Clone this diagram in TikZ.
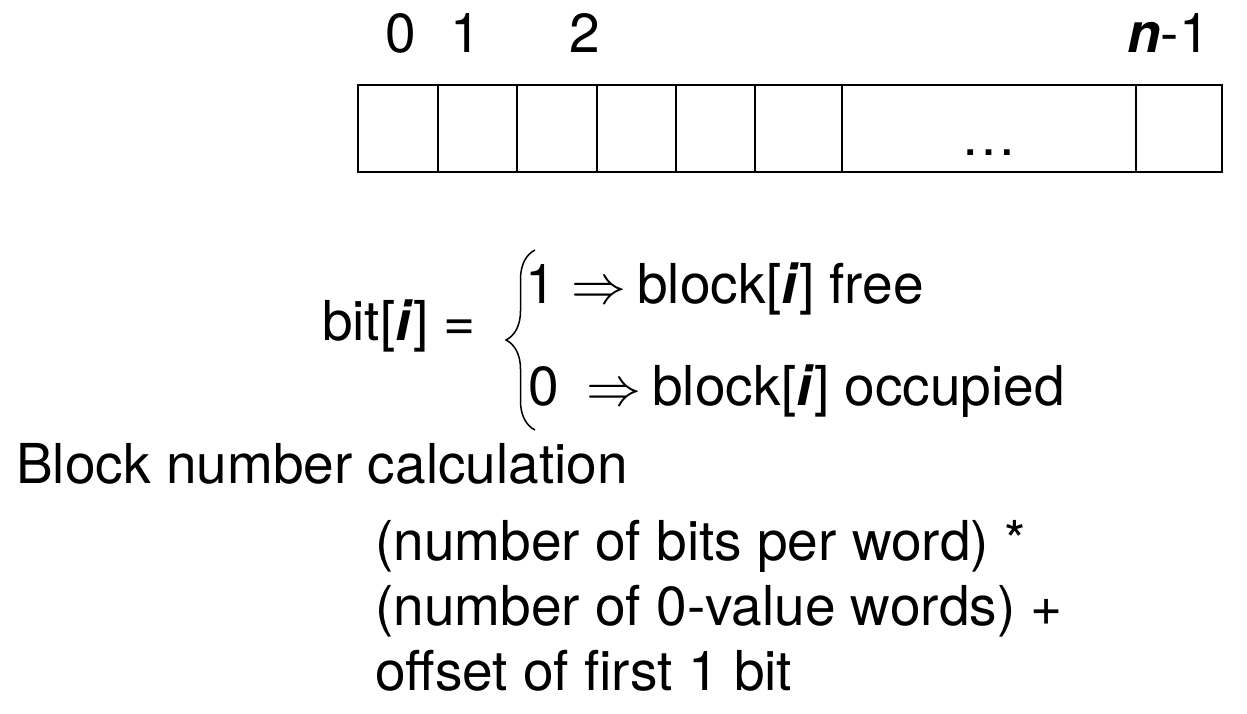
\RequirePackage{fix-cm}
\documentclass[tikz,border=0pt]{standalone}
\usepackage{fontspec}
\setmainfont{TeX Gyre Heros}
\usetikzlibrary{positioning, decorations.pathreplacing}

\begin{document}
\begin{tikzpicture}[
  x=1pt, y=-1pt,
  font=\fontsize{55}{66}\selectfont,
  node distance=0pt,
  cell/.style={draw, line width=2.5pt, minimum height=87pt, inner sep=0pt, outer sep=0pt},
  txt/.style={inner sep=0pt, anchor=base west},
  curly/.style={decorate, decoration={brace, amplitude=29pt}, line width=1.5pt}
]
\useasboundingbox (0,0) rectangle (1247,713);
% bitmap cells
\node[cell, minimum width=80pt, anchor=west] (c0) at (358,128.5) {};
\node[cell, minimum width=79pt, right=of c0] (c1) {};
\node[cell, minimum width=80pt, right=of c1] (c2) {};
\node[cell, minimum width=79pt, right=of c2] (c3) {};
\node[cell, minimum width=79pt, right=of c3] (c4) {};
\node[cell, minimum width=87pt, right=of c4] (c5) {};
\node[cell, minimum width=294pt, right=of c5] (c6) {};
\node[cell, minimum width=86pt, right=of c6] (c7) {};
\node[txt, anchor=base] (dots) at (989,155) {…};
% indices
\node[txt, anchor=base] (i0) at (401,52) {0};
\node[txt, anchor=base] (i1) at (466,52) {1};
\node[txt, anchor=base] (i2) at (585,52) {2};
\node[txt, anchor=base east] (in) at (1210,52) {\textbf{\textit{n}}-1};
% bit definition
\node[txt] (bit) at (322,340) {bit[\textbf{\textit{i}}] =};
\coordinate (btop) at (535,250);
\coordinate (bbot) at (535,430);
\draw[curly] (bbot) -- (btop);
\node[txt] (one) at (525,303) {1 $\Rightarrow$\hspace{-4pt} block[\textbf{\textit{i}}] free};
\node[txt] (zero) at (528,405) {0\hspace{12pt} $\Rightarrow$\hspace{-4pt} block[\textbf{\textit{i}}] occupied};
% block number
\node[txt] (calc) at (16,483) {Block number calculation};
\node[txt] (f1) at (375,560) {(number of bits per word) *};
\node[txt] (f2) at (375,625) {(number of 0-value words) +};
\node[txt] (f3) at (375,690) {offset of first 1 bit};
\end{tikzpicture}
\end{document}
